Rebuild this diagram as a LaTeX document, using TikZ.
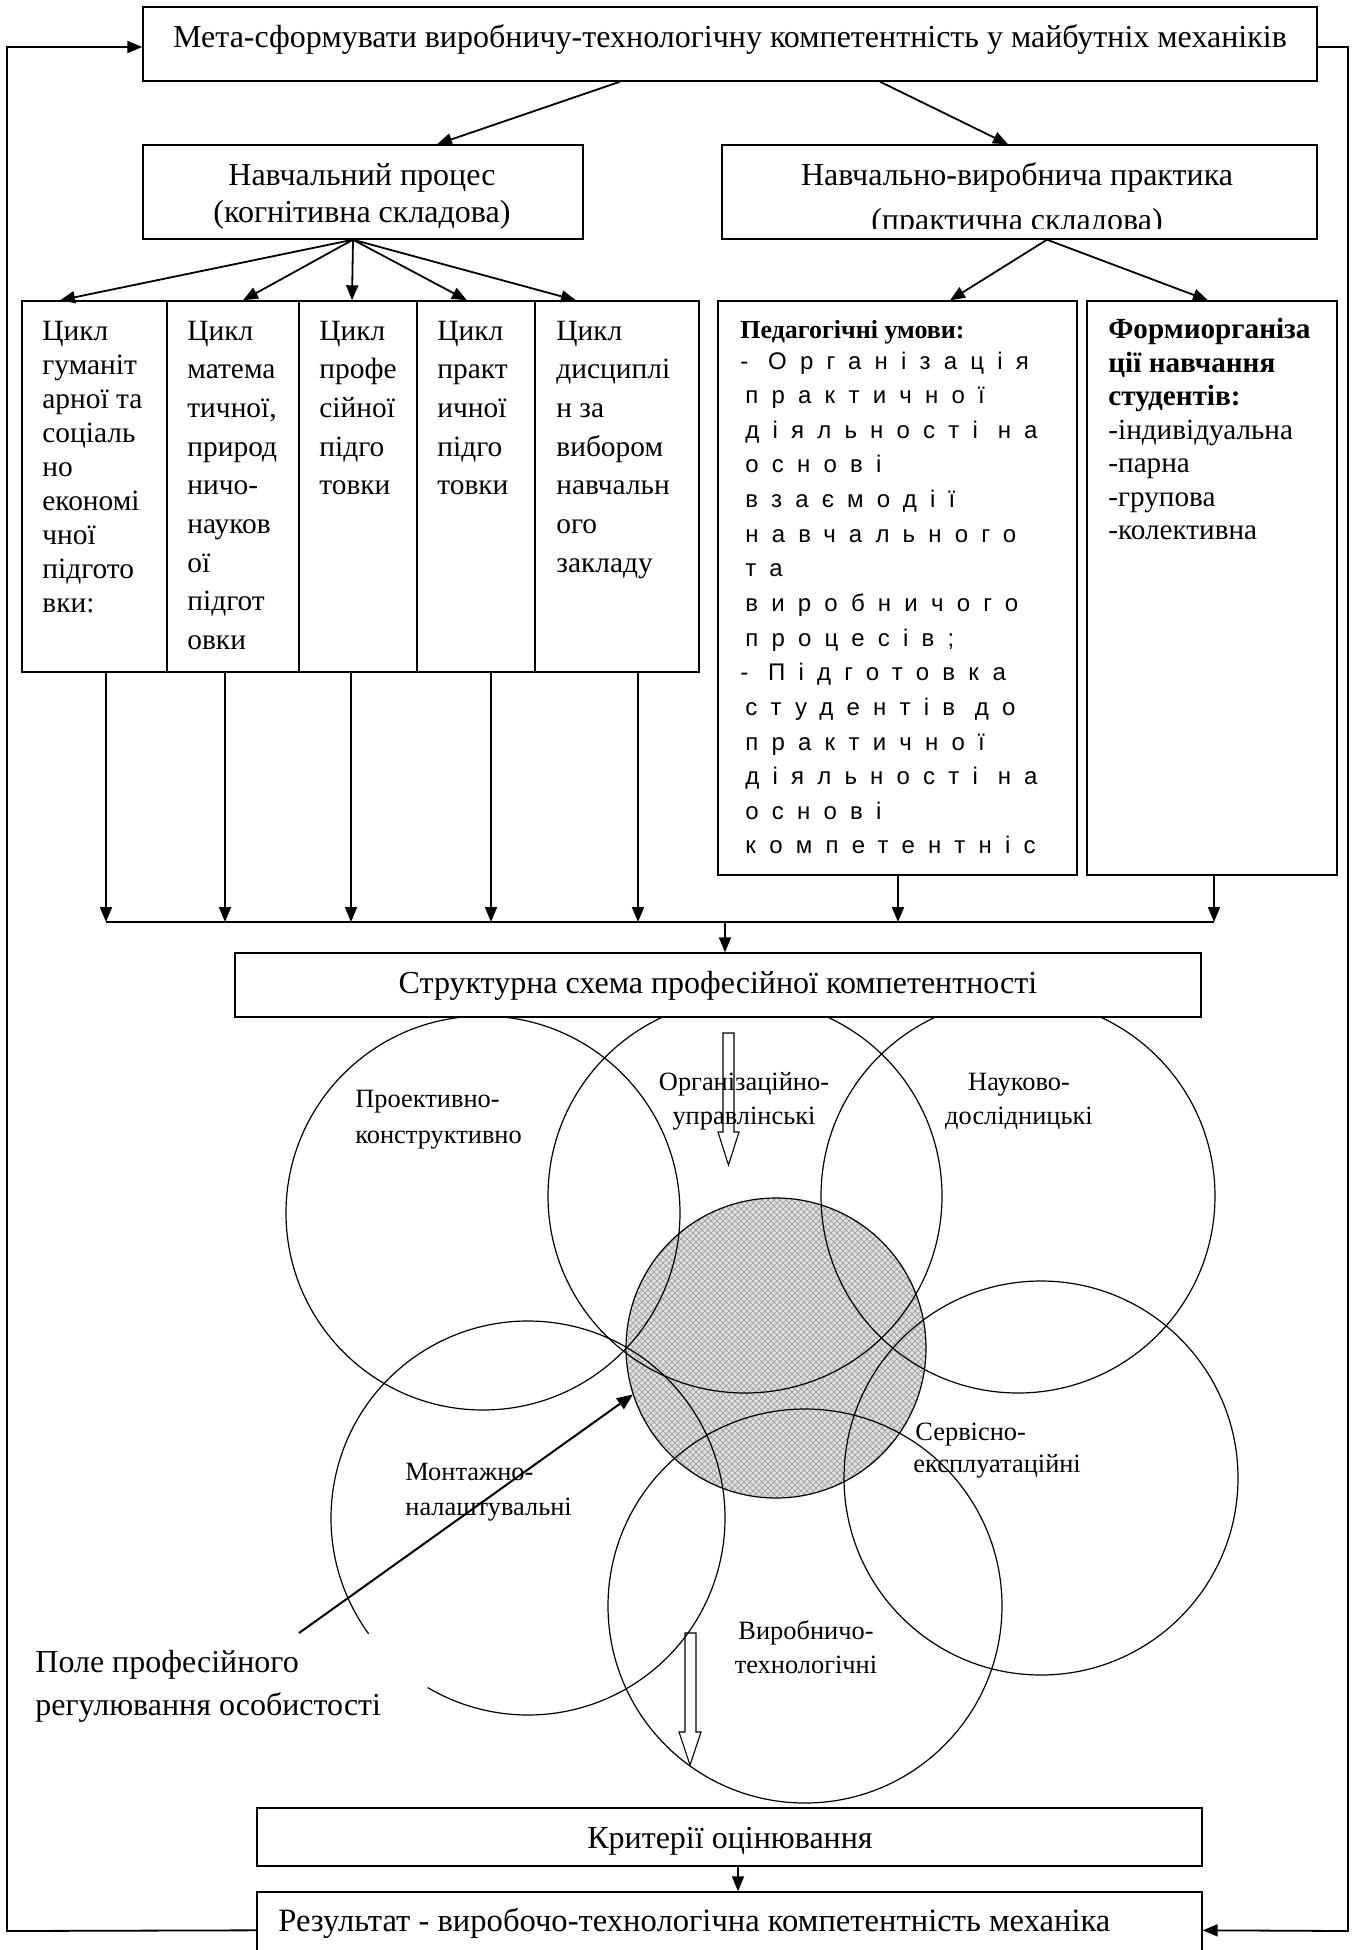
\documentclass[tikz,border=0pt]{standalone}
\usepackage{fontspec}
\setmainfont{Liberation Serif}
\newfontfamily\spfont[LetterSpace=55]{Liberation Sans}
\usetikzlibrary{arrows.meta,fit,calc,patterns}
\begin{document}
\begin{tikzpicture}[x=0.5pt,y=-0.5pt,
  box/.style={draw, line width=0.7pt, fill=white, inner sep=0pt},
  arr/.style={line width=0.9pt, -{Triangle[length=7.5pt,width=6pt]}},
  ln/.style={line width=0.9pt},
  circ/.style={line width=0.6pt},
  ring/.style={circle, draw, line width=0.6pt, minimum size=197pt, inner sep=0pt},
  hollow/.style={line width=0.55pt},
  t16/.style={font=\fontsize{16}{19}\selectfont, inner sep=0pt},
  tcol/.style={font=\fontsize{14.7}{17}\selectfont, inner sep=0pt, anchor=base west},
  tb14/.style={font=\fontsize{14.6}{17}\selectfont\bfseries, inner sep=0pt, anchor=base west},
  t146/.style={font=\fontsize{14.6}{17}\selectfont, inner sep=0pt, anchor=base west},
  tb13/.style={font=\fontsize{13}{15}\selectfont\bfseries, inner sep=0pt},
  lab/.style={font=\fontsize{13.2}{15}\selectfont, inner sep=0pt},
  sp/.style={font=\spfont\fontsize{12}{14}\selectfont, inner sep=0pt, anchor=base west}
]
\clip (0,0) rectangle (1356,1950);
\useasboundingbox (0,0) rectangle (1356,1950);

% ---------- competence field ----------
\node[circle, minimum size=150pt, inner sep=0pt] (core) at (776,1348) {};
\fill[gray!22] (core.center) circle[radius=150];
\fill[pattern=north east lines, pattern color=gray!70] (core.center) circle[radius=150];
\fill[pattern=north west lines, pattern color=gray!70] (core.center) circle[radius=150];

\node[ring] (c1) at (483,1213) {};
\node[ring] (c2) at (745,1196) {};
\node[ring] (c3) at (1018,1196) {};
\node[ring] (c5) at (1041,1478) {};
\node[ring] (c6) at (805,1606) {};
\draw[circ] (528,1518) ++(144:197) arc[start angle=144, end angle=480.6, radius=197];
\draw[circ] (core.center) circle[radius=150];

% hollow arrows
\draw[hollow] (723,1033) -- (734,1033) -- (734,1132) -- (739,1132) -- (728.5,1165) -- (718,1132) -- (723,1132) -- cycle;
\draw[hollow] (685,1633) -- (696,1633) -- (696,1732) -- (701,1732) -- (690,1765) -- (679,1732) -- (685,1732) -- cycle;

% ---------- boxes ----------
\node[box, fit={(143,7) (1317,81)}] (meta) {};
\node[box, fit={(143,145) (583,239)}] (nav) {};
\node[box, fit={(722,145) (1317,239)}] (prac) {};
\node[box, fit={(22,301) (167,672)}] (col1) {};
\node[box, fit={(167,301) (299,672)}] (col2) {};
\node[box, fit={(299,301) (417,672)}] (col3) {};
\node[box, fit={(417,301) (535,672)}] (col4) {};
\node[box, fit={(535,301) (699,672)}] (col5) {};
\node[box, fit={(718,301) (1077,875)}] (ped) {};
\node[box, fit={(1087,301) (1337,875)}] (form) {};
\node[box, fit={(235,953) (1201,1017)}] (struct) {};
\node[box, fit={(257,1808) (1202,1866)}] (crit) {};
\node[box, fit={(257,1892) (1202,1980)}] (res) {};

% ---------- texts ----------
\node[t16, anchor=base] (metat) at (730,47) {Мета-сформувати виробничу-технологічну компетентність у майбутніх механіків};
\node[t16, anchor=base] (navt1) at (362,185) {Навчальний процес};
\node[t16, anchor=base] (navt2) at (362,222) {(когнітивна складова)};
\node[t16, anchor=base] (pract1) at (1017,185) {Навчально-виробнича практика};
\begin{scope}
  \clip (722,146) rectangle (1317,228);
  \node[t16, anchor=base] (pract2) at (1017,230) {(практична складова)};
\end{scope}

\foreach \t [count=\i] in {Цикл,гуманіт,арної та,соціаль,но,економі,чної,підгото,вки:}
  \node[tcol] (ca\i) at (42,{340+34*(\i-1)}) {\t};
\foreach \t [count=\i] in {Цикл,матема,{тичної,},природ,ничо-,науков,ої,підгот,овки}
  \node[tcol] (cb\i) at (187,{340+38.7*(\i-1)}) {\t};
\foreach \t [count=\i] in {Цикл,профе,сійної,підго,товки}
  \node[tcol] (cc\i) at (319,{340+38.7*(\i-1)}) {\t};
\foreach \t [count=\i] in {Цикл,практ,ичної,підго,товки}
  \node[tcol] (cd\i) at (437,{340+38.7*(\i-1)}) {\t};
\foreach \t [count=\i] in {Цикл,дисциплі,н за,вибором,навчальн,ого,закладу}
  \node[tcol] (ce\i) at (556,{340+38.7*(\i-1)}) {\t};

\node[tb13, anchor=base west] (pedt) at (740,338.5) {Педагогічні умови:};
\foreach \x/\t [count=\i] in {740/- Організація, 745/практичної, 745/діяльності на, 745/основі, 745/взаємодії, 745/навчального, 745/та, 745/виробничого, 745/процесів;, 740/- Підготовка, 745/студентів до, 745/практичної, 745/діяльності на, 745/основі, 745/компетентніс}
  \node[sp] (pd\i) at (\x,{369+34.64*(\i-1)}) {\t};

\foreach \t [count=\i] in {Формиорганіза,ції навчання,студентів:}
  \node[tb14] (fa\i) at (1108,{338.5+33.5*(\i-1)}) {\t};
\foreach \t [count=\i] in {-індивідуальна,-парна,-групова,-колективна}
  \node[t146] (fb\i) at (1108,{439+33.5*(\i-1)}) {\t};

\node[t16, anchor=base] (structt) at (718,993) {Структурна схема професійної компетентності};
\node[t16, anchor=base] (critt) at (730,1848) {Критерії оцінювання};
\node[t16, anchor=base west, font=\fontsize{16.3}{19}\selectfont] (rest) at (278,1931) {Результат - виробочо-технологічна компетентність механіка};

\node[t16, anchor=base west] (fld1) at (35,1672) {Поле професійного};
\node[t16, anchor=base west] (fld2) at (35,1715) {регулювання особистості};

\node[lab, anchor=base west] (l1a) at (355,1107) {Проективно-};
\node[lab, anchor=base west] (l1b) at (355,1143) {конструктивно};
\node[lab, anchor=base] (l2a) at (744,1090) {Організаційно-};
\node[lab, anchor=base] (l2b) at (744,1124) {управлінські};
\node[lab, anchor=base] (l3a) at (1019,1090) {Науково-};
\node[lab, anchor=base] (l3b) at (1019,1124) {дослідницькі};
\node[lab, anchor=base west] (l5a) at (915,1440) {Сервісно-};
\node[lab, anchor=base west] (l5b) at (913,1472) {експлуатаційні};
\node[lab, anchor=base west] (l4a) at (405,1480) {Монтажно-};
\node[lab, anchor=base west] (l4b) at (405,1515) {налаштувальні};
\node[lab, anchor=base] (l6a) at (806,1639) {Виробничо-};
\node[lab, anchor=base] (l6b) at (806,1673) {технологічні};

% ---------- connectors ----------
\draw[arr] ($(meta.south)+(-110,0)$) -- ($(nav.north)+(74,0)$);
\draw[arr] ($(meta.south)+(150,0)$) -- ($(prac.north)+(-11.5,0)$);

\coordinate (nvo) at ($(nav.south)+(-10,0)$);
\foreach \c/\dx in {col1/-34.5, col2/10, col3/-6, col4/-9, col5/-41}
  \draw[arr] (nvo) -- ($(\c.north)+(\dx,0)$);
\coordinate (pro) at ($(prac.south)+(27.5,0)$);
\foreach \c/\dx in {ped/52.5, form/-4}
  \draw[arr] (pro) -- ($(\c.north)+(\dx,0)$);

\foreach \c/\x [count=\i] in {col1/106, col2/225, col3/351, col4/491, col5/638, ped/898, form/1214} {
  \coordinate (bus\i) at (\x,922);
  \draw[arr] (\c.south -| bus\i) -- (bus\i);
}
\draw[ln] (bus1) -- (bus7);
\coordinate (busm) at (725,922);
\draw[arr] (busm) -- (busm |- struct.north);

\draw[arr] ($(crit.south)+(8.5,0)$) -- ($(res.north)+(8.5,0)$);

\draw[arr] ($(res.north west)+(0,39)$) -- (7,1931) -- (7,47) -- ($(meta.west)+(0,3)$);
\draw[arr] ($(meta.east)+(0,3)$) -- (1348,47) -- (1348,1931) -- ($(res.north east)+(0,39)$);

\coordinate (ptr) at (299,1633);
\draw[line width=1pt, -{Triangle[length=8pt,width=6.5pt]}] (ptr) -- (core.198);
\end{tikzpicture}
\end{document}
